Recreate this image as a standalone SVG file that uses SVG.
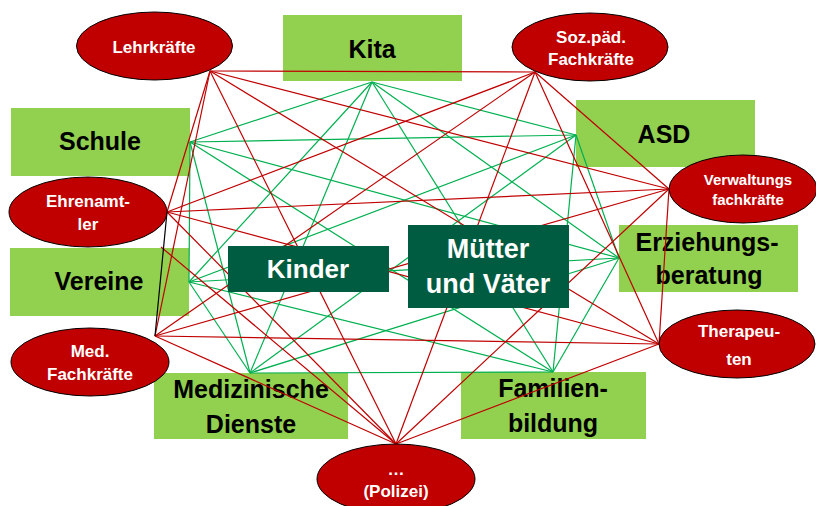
<svg xmlns="http://www.w3.org/2000/svg" width="816" height="506" viewBox="0 0 816 506">
<style>
.g rect{fill:#92D050}
.g text{fill:#000;font-family:"Liberation Sans",Arial,sans-serif;font-weight:bold;font-size:25px;text-anchor:middle}
.r ellipse{fill:#C00000;stroke:#000;stroke-width:1}
.r text{fill:#fff;font-family:"Liberation Sans",Arial,sans-serif;font-weight:bold;font-size:17px;text-anchor:middle}
.d rect{fill:#005C40}
.d text{fill:#fff;font-family:"Liberation Sans",Arial,sans-serif;font-weight:bold;font-size:26px;text-anchor:middle}
.lg line{stroke:#00B050;stroke-width:1.2}
.lr line{stroke:#C00000;stroke-width:1.2}
</style>
<rect width="816" height="506" fill="#fff"/>
<g id="kita" class="g"><rect x="283" y="15" width="179" height="66"/><text x="372" y="58">Kita</text></g>
<g id="schule" class="g"><rect x="11" y="108" width="179" height="68"/><text x="100" y="150">Schule</text></g>
<g id="asd" class="g"><rect x="576" y="100" width="179" height="67"/><text x="664" y="143">ASD</text></g>
<g id="vereine" class="g"><rect x="10" y="248" width="179" height="68"/><text x="99" y="290">Vereine</text></g>
<g id="erziehungsberatung" class="g"><rect x="619" y="225" width="179" height="67"/><text x="707" y="251">Erziehungs-</text><text x="709" y="284">beratung</text></g>
<g id="medizinische-dienste" class="g"><rect x="154" y="373" width="194" height="66"/><text x="251" y="398">Medizinische</text><text x="251" y="433">Dienste</text></g>
<g id="familienbildung" class="g"><rect x="461" y="372" width="185" height="67"/><text x="553" y="397">Familien-</text><text x="553" y="432">bildung</text></g>
<g id="connectors">
<g class="lg">
<line x1="372" y1="82" x2="190" y2="142"/>
<line x1="372" y1="82" x2="576" y2="135"/>
<line x1="372" y1="82" x2="189" y2="282"/>
<line x1="372" y1="82" x2="619" y2="258"/>
<line x1="372" y1="82" x2="250" y2="373"/>
<line x1="372" y1="82" x2="553" y2="372"/>
<line x1="190" y1="142" x2="576" y2="135"/>
<line x1="190" y1="142" x2="189" y2="282"/>
<line x1="190" y1="142" x2="619" y2="258"/>
<line x1="190" y1="142" x2="250" y2="373"/>
<line x1="190" y1="142" x2="553" y2="372"/>
<line x1="576" y1="135" x2="189" y2="282"/>
<line x1="576" y1="135" x2="619" y2="258"/>
<line x1="576" y1="135" x2="250" y2="373"/>
<line x1="576" y1="135" x2="553" y2="372"/>
<line x1="189" y1="282" x2="619" y2="258"/>
<line x1="189" y1="282" x2="250" y2="373"/>
<line x1="189" y1="282" x2="553" y2="372"/>
<line x1="619" y1="258" x2="250" y2="373"/>
<line x1="619" y1="258" x2="553" y2="372"/>
<line x1="250" y1="373" x2="553" y2="372"/>
</g>
<g class="lr">
<line x1="210" y1="71" x2="535" y2="72"/>
<line x1="210" y1="71" x2="167" y2="212"/>
<line x1="210" y1="71" x2="155" y2="336"/>
<line x1="210" y1="71" x2="669" y2="189"/>
<line x1="210" y1="71" x2="659" y2="344"/>
<line x1="210" y1="71" x2="396" y2="444"/>
<line x1="535" y1="72" x2="167" y2="212"/>
<line x1="535" y1="72" x2="155" y2="336"/>
<line x1="535" y1="72" x2="669" y2="189"/>
<line x1="535" y1="72" x2="659" y2="344"/>
<line x1="535" y1="72" x2="396" y2="444"/>
<line x1="167" y1="212" x2="669" y2="189"/>
<line x1="167" y1="212" x2="659" y2="344"/>
<line x1="167" y1="212" x2="396" y2="444"/>
<line x1="155" y1="336" x2="669" y2="189"/>
<line x1="155" y1="336" x2="659" y2="344"/>
<line x1="155" y1="336" x2="396" y2="444"/>
<line x1="669" y1="189" x2="659" y2="344"/>
<line x1="669" y1="189" x2="396" y2="444"/>
<line x1="659" y1="344" x2="396" y2="444"/>
<line x1="161" y1="247" x2="396" y2="444"/>
</g>
<line x1="167" y1="212" x2="155" y2="336" stroke="#000" stroke-width="1.2"/>
</g>
<g id="lehrkraefte" class="r"><ellipse cx="154.5" cy="46" rx="78" ry="34"/><text x="154" y="53">Lehrkräfte</text></g>
<g id="sozpaed-fachkraefte" class="r"><ellipse cx="590" cy="47" rx="78" ry="34"/><text x="591" y="43">Soz.päd.</text><text x="591" y="65">Fachkräfte</text></g>
<g id="ehrenamtler" class="r"><ellipse cx="88" cy="212" rx="79" ry="35"/><text x="88" y="207">Ehrenamt-</text><text x="88" y="230">ler</text></g>
<g id="verwaltungsfachkraefte" class="r"><ellipse cx="743" cy="189" rx="74" ry="34"/><text x="748" y="185" style="font-size:15px">Verwaltungs</text><text x="748" y="205" style="font-size:15px">fachkräfte</text></g>
<g id="therapeuten" class="r"><ellipse cx="737" cy="344" rx="78" ry="34"/><text x="739" y="337">Therapeu-</text><text x="739" y="365">ten</text></g>
<g id="med-fachkraefte" class="r"><ellipse cx="90" cy="362" rx="79" ry="34"/><text x="90" y="357">Med.</text><text x="90" y="380">Fachkräfte</text></g>
<g id="polizei" class="r"><ellipse cx="396" cy="479" rx="79" ry="35"/><text x="396" y="475">…</text><text x="396" y="497">(Polizei)</text></g>
<g id="kinder" class="d"><rect x="228" y="246" width="161" height="46"/><text x="308" y="278">Kinder</text></g>
<g id="muetter-vaeter" class="d"><rect x="408" y="225" width="161" height="83"/><text x="488" y="258" style="font-size:27px">Mütter</text><text x="488" y="293" style="font-size:27px">und Väter</text></g>
</svg>
